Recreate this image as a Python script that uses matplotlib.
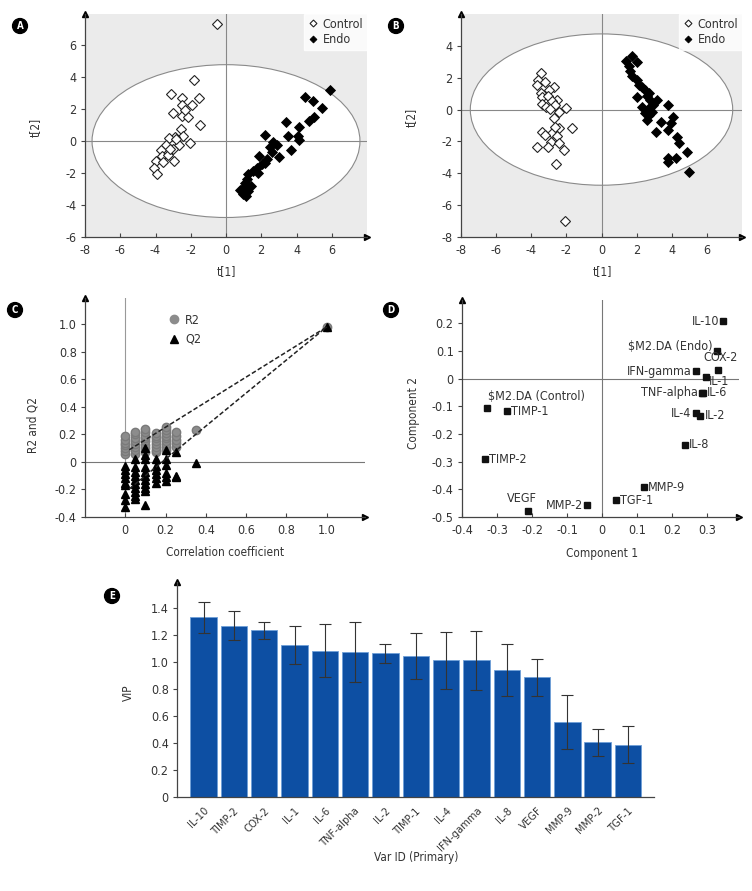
import numpy as np
import matplotlib
matplotlib.use("Agg")
import matplotlib.pyplot as plt
from matplotlib.patches import Ellipse
from matplotlib.lines import Line2D

plt.rcParams['font.family'] = ['DejaVu Sans']
plt.rcParams['font.stretch'] = 'condensed'

# ---- data -------------------------------------------------------------
# A: score plot (model 1)
a_ctrl_x = [-0.53, -1.82, -3.13, -2.52, -1.52, -1.95, -2.47, -2.99, -2.47, -2.14,
            -2.33, -1.48, -2.56, -2.43, -2.05, -2.90, -3.23, -2.66, -3.43, -3.70,
            -3.00, -3.61, -3.28, -3.98, -3.57, -2.96, -4.08, -3.91, -3.19, -2.81]
a_ctrl_y = [7.30, 3.84, 2.92, 2.71, 2.71, 2.27, 2.27, 1.74, 1.60, 1.53,
            1.95, 1.00, 0.76, 0.34, -0.15, 0.23, 0.17, -0.23, -0.25, -0.57,
            -0.50, -0.92, -0.86, -1.24, -1.30, -1.24, -1.66, -2.08, -0.50, 0.13]
a_endo_x = [5.88, 4.46, 4.91, 5.46, 4.97, 4.69, 3.42, 4.16, 3.49, 4.08, 4.17, 3.68,
            2.22, 2.69, 2.88, 2.98, 2.47, 1.90, 2.31, 2.03, 1.75, 1.56, 1.84, 1.27,
            1.18, 1.08, 1.40, 0.80, 0.99, 1.27, 2.60, 2.22, 0.99, 1.14]
a_endo_y = [3.21, 2.75, 2.48, 2.10, 1.49, 1.24, 1.18, 0.90, 0.29, 0.34, 0.06, -0.57,
            0.40, -0.08, -0.23, -0.99, -0.40, -0.92, -1.13, -1.45, -1.66, -1.87, -1.97, -2.08,
            -2.39, -2.60, -2.82, -3.07, -3.30, -3.13, -0.71, -1.34, -2.92, -3.44]

# B: score plot (model 2)
b_ctrl_x = [-3.43, -3.60, -3.23, -3.66, -2.68, -3.00, -3.47, -3.38, -3.05, -2.52, -2.81,
            -3.40, -3.17, -2.62, -2.01, -2.43, -2.94, -2.71, -1.67, -2.43, -3.38, -2.81,
            -3.23, -2.52, -2.90, -3.66, -3.04, -2.43, -2.11, -2.58, -2.09, -2.62]
b_ctrl_y = [2.29, 1.87, 1.71, 1.56, 1.41, 1.24, 1.03, 0.82, 0.86, 0.61, 0.51,
            0.36, 0.19, 0.29, 0.08, -0.13, 0.02, -0.55, -1.14, -1.18, -1.43, -1.49,
            -1.60, -1.66, -2.02, -2.34, -2.34, -2.13, -2.55, -3.39, -7.01, -1.07]
b_endo_x = [1.71, 1.40, 2.03, 1.56, 1.65, 1.75, 2.03, 2.13, 2.31, 2.50, 2.69, 2.03,
            2.60, 2.79, 3.17, 2.92, 2.73, 2.88, 2.69, 3.78, 4.08, 3.36, 2.60, 3.93,
            3.78, 3.11, 4.31, 4.44, 4.84, 3.78, 3.78, 4.25, 4.97, 2.50, 2.31]
b_endo_y = [3.39, 3.07, 2.99, 2.72, 2.40, 2.13, 1.87, 1.56, 1.41, 1.24, 1.07, 0.82,
            0.86, 0.61, 0.61, 0.29, 0.08, -0.13, -0.34, 0.29, -0.44, -0.76, -0.65, -0.86,
            -1.28, -1.43, -1.70, -2.08, -2.65, -3.07, -3.28, -3.03, -3.92, -0.23, 0.19]

# C: permutation test
r2_x = [0.0] * 7 + [0.05] * 8 + [0.1] * 8 + [0.15] * 8 + [0.2] * 9 + [0.25] * 5 + [0.35, 1.0]
r2_y = [0.06, 0.08, 0.10, 0.12, 0.14, 0.16, 0.19,
        0.06, 0.09, 0.11, 0.13, 0.15, 0.17, 0.20, 0.22,
        0.07, 0.10, 0.12, 0.15, 0.17, 0.19, 0.22, 0.24,
        0.07, 0.09, 0.11, 0.13, 0.15, 0.17, 0.19, 0.21,
        0.09, 0.11, 0.13, 0.15, 0.17, 0.19, 0.21, 0.23, 0.25,
        0.11, 0.14, 0.16, 0.19, 0.22,
        0.23, 0.98]
q2_x = [0.0] * 9 + [0.05] * 10 + [0.1] * 11 + [0.15] * 6 + [0.2] * 6 + [0.25] * 3 + [0.35, 1.0]
q2_y = [-0.03, -0.06, -0.09, -0.12, -0.15, -0.17, -0.23, -0.28, -0.33,
        0.02, -0.04, -0.07, -0.10, -0.13, -0.16, -0.19, -0.22, -0.25, -0.27,
        0.10, 0.05, 0.02, -0.04, -0.07, -0.10, -0.13, -0.16, -0.19, -0.21, -0.31,
        0.02, -0.03, -0.06, -0.09, -0.12, -0.15,
        0.09, 0.02, -0.02, -0.08, -0.11, -0.14,
        0.07, -0.10, -0.11,
        -0.01, 0.98]
r2_intercept, q2_intercept, fit_end = 0.07, -0.22, 0.98

# D: loading plot
d_names = ["IL-10", "$M2.DA (Endo)", "COX-2", "IFN-gamma", "IL-1", "TNF-alpha", "IL-6",
           "IL-4", "IL-2", "IL-8", "$M2.DA (Control)", "TIMP-1", "TIMP-2", "VEGF",
           "MMP-2", "TGF-1", "MMP-9"]
d_x = [0.345, 0.326, 0.329, 0.266, 0.297, 0.284, 0.286, 0.266, 0.278, 0.235,
       -0.329, -0.272, -0.334, -0.212, -0.043, 0.038, 0.118]
d_y = [0.209, 0.100, 0.030, 0.027, 0.006, -0.051, -0.051, -0.124, -0.133, -0.239,
       -0.105, -0.118, -0.291, -0.480, -0.458, -0.440, -0.392]

# E: VIP
vip_names = ["IL-10", "TIMP-2", "COX-2", "IL-1", "IL-6", "TNF-alpha", "IL-2", "TIMP-1",
             "IL-4", "IFN-gamma", "IL-8", "VEGF", "MMP-9", "MMP-2", "TGF-1"]
vip = [1.33, 1.267, 1.232, 1.123, 1.081, 1.072, 1.062, 1.042, 1.012, 1.010, 0.938,
       0.884, 0.553, 0.405, 0.388]
vip_err = [0.115, 0.105, 0.062, 0.14, 0.197, 0.225, 0.068, 0.173, 0.21, 0.217, 0.193,
           0.135, 0.199, 0.10, 0.14]

# ---- layout helpers ---------------------------------------------------
W, H = 752, 891
fig = plt.figure(figsize=(W / 100, H / 100), dpi=100)
TXT = "#333333"
SP = "#444444"


def ax_px(l, t, r, b):
    return fig.add_axes([l / W, 1 - b / H, (r - l) / W, (b - t) / H])


def ftext(x, y, s, **kw):
    kw.setdefault("color", TXT)
    kw.setdefault("fontsize", 8.5)
    fig.text(x / W, 1 - y / H, s, ha="center", va="center", **kw)


def badge(x, y, s):
    fig.text(x / W, 1 - y / H, s, ha="center", va="center", color="white",
             fontsize=7, fontweight="bold",
             bbox=dict(boxstyle="circle,pad=0.25", fc="black", ec="black"))


def fmt_int(v):
    return f"{v:d}"


def fmt_dec(v):
    return "0" if abs(v) < 1e-9 else f"{v:.1f}"


def style(ax, xticks, yticks, xfmt=fmt_dec, yfmt=fmt_dec, arrow_x=True):
    for s in ["top", "right"]:
        ax.spines[s].set_visible(False)
    for s in ["left", "bottom"]:
        ax.spines[s].set_color(SP)
        ax.spines[s].set_linewidth(0.9)
    ax.set_xticks(xticks)
    ax.set_yticks(yticks)
    ax.set_xticklabels([xfmt(v) for v in xticks])
    ax.set_yticklabels([yfmt(v) for v in yticks])
    ax.tick_params(axis="x", direction="in", length=3, colors=SP, labelcolor=TXT,
                   labelsize=9, pad=5)
    ax.tick_params(axis="y", direction="out", length=3, colors=SP, labelcolor=TXT,
                   labelsize=9, pad=3)
    ax.plot(0, 1, "^", color="black", ms=5, transform=ax.transAxes, clip_on=False)
    if arrow_x:
        ax.plot(1, 0, ">", color="black", ms=5, transform=ax.transAxes, clip_on=False)


def score_panel(ax, cx, cy, ex, ey, ylim, ell):
    ax.set_facecolor("#ebebeb")
    ax.add_patch(Ellipse((0, 0), 2 * ell[0], 2 * ell[1], fc="white", ec="#8a8a8a",
                         lw=0.8, zorder=0.5))
    ax.axhline(0, color="#888888", lw=0.8, zorder=1)
    ax.axvline(0, color="#888888", lw=0.8, zorder=1)
    ax.plot(cx, cy, "D", ms=5, mfc="white", mec="#222222", mew=0.8, ls="none",
            zorder=3, label="Control")
    ax.plot(ex, ey, "D", ms=5, mfc="black", mec="black", mew=0.6, ls="none",
            zorder=3, label="Endo")
    ax.set_xlim(-8, 8.0)
    ax.set_ylim(*ylim)
    leg = ax.legend(loc="upper right", borderaxespad=0, frameon=True, fancybox=False,
                    fontsize=9, handlelength=0.8, handletextpad=0.4, borderpad=0.3,
                    labelspacing=0.2, markerscale=0.7)
    leg.get_frame().set_facecolor("white")
    leg.get_frame().set_edgecolor("white")
    for t in leg.get_texts():
        t.set_color(TXT)


# ---- A ----
axA = ax_px(85, 14, 367, 237)
score_panel(axA, a_ctrl_x, a_ctrl_y, a_endo_x, a_endo_y, (-6, 7.95), (7.6, 4.78))
style(axA, list(range(-8, 7, 2)), list(range(-6, 7, 2)), fmt_int, fmt_int)
ftext(226, 272, "t[1]")
ftext(35, 127, "t[2]", rotation=90)
badge(20, 26, "A")

# ---- B ----
axB = ax_px(461, 14, 742, 237)
score_panel(axB, b_ctrl_x, b_ctrl_y, b_endo_x, b_endo_y, (-8, 6.0), (7.47, 4.75))
style(axB, list(range(-8, 7, 2)), list(range(-8, 5, 2)), fmt_int, fmt_int)
ftext(602, 272, "t[1]")
ftext(411, 117, "t[2]", rotation=90)
badge(396, 26, "B")

# ---- C ----
axC = ax_px(85, 298, 365, 517)
axC.axhline(0, color="#777777", lw=0.8, zorder=1)
axC.axvline(0, color="#999999", lw=0.8, zorder=1)
axC.plot(r2_x, r2_y, "o", ms=6, color="#8c8c8c", mec="#7a7a7a", ls="none", zorder=3)
axC.plot(q2_x, q2_y, "^", ms=6, color="black", ls="none", zorder=4)
xs = np.array([0.02, 1.0])
axC.plot(xs, r2_intercept + (fit_end - r2_intercept) * xs, ls=(0, (3, 1.5)),
         color="#222222", lw=1.1, zorder=5)
axC.plot(xs, q2_intercept + (fit_end - q2_intercept) * xs, ls=(0, (3, 1.5)),
         color="#222222", lw=1.1, zorder=5)
axC.set_xlim(-0.2, 1.19)
axC.set_ylim(-0.4, 1.19)
style(axC, [0, 0.2, 0.4, 0.6, 0.8, 1.0], [-0.4, -0.2, 0, 0.2, 0.4, 0.6, 0.8, 1.0])
handles = [Line2D([], [], marker="o", color="#8c8c8c", ls="none", ms=6),
           Line2D([], [], marker="^", color="black", ls="none", ms=6)]
legC = axC.legend(handles, ["R2", "Q2"], loc="upper left", bbox_to_anchor=(0.26, 0.98),
                  frameon=False, fontsize=9, handlelength=0.8, handletextpad=0.5,
                  labelspacing=0.5)
for t in legC.get_texts():
    t.set_color(TXT)
ftext(33, 425, "R2 and Q2", rotation=90)
ftext(225, 553, "Correlation coefficient")
badge(15, 310, "C")

# ---- D ----
axD = ax_px(462, 300, 739, 517)
axD.axhline(0, color="#777777", lw=0.8, zorder=1)
axD.axvline(0, color="#777777", lw=0.8, zorder=1)
axD.plot(d_x, d_y, "s", ms=5, color="#111111", ls="none", zorder=3)
# label placement (offset in points, horizontal alignment)
d_off = [(-3, 0, "right"), (-3, 3, "right"), (2, 9, "center"), (-3, 0, "right"),
         (2, -3, "left"), (-3, 0, "right"), (3, 0, "left"), (-3, 0, "right"),
         (4, 0, "left"), (3, 0, "left"), (1, 8, "left"), (3, 0, "left"),
         (3, 0, "left"), (-4, 9, "center"), (-3, 0, "right"), (3, 0, "left"),
         (3, 0, "left")]
for name, x, y, (ox, oy, ha) in zip(d_names, d_x, d_y, d_off):
    axD.annotate(name, (x, y), xytext=(ox, oy), textcoords="offset points",
                 ha=ha, va="center", fontsize=9, color=TXT, zorder=4)
axD.set_xlim(-0.4, 0.39)
axD.set_ylim(-0.5, 0.285)
style(axD, [-0.4, -0.3, -0.2, -0.1, 0, 0.1, 0.2, 0.3], [-0.5, -0.4, -0.3, -0.2, -0.1, 0, 0.1, 0.2])
ftext(414, 413, "Component 2", rotation=90)
ftext(602, 553, "Component 1")
badge(391, 310, "D")

# ---- E ----
axE = ax_px(177, 582, 654, 797)
pos = np.arange(len(vip_names))
axE.bar(pos, vip, width=0.87, color="#0d4fa3", edgecolor="#6f9fd8", linewidth=0.6,
        zorder=2)
axE.errorbar(pos, vip, yerr=vip_err, fmt="none", ecolor="#333333", elinewidth=0.8,
             capsize=4, capthick=0.8, zorder=3)
axE.set_xlim(-0.88, 14.86)
axE.set_ylim(0, 1.59)
style(axE, list(pos), [0, 0.2, 0.4, 0.6, 0.8, 1.0, 1.2, 1.4], arrow_x=False)
axE.set_xticklabels(vip_names, rotation=45, ha="right", rotation_mode="anchor",
                    fontsize=8)
axE.tick_params(axis="x", length=0, pad=6)
ftext(128, 693, "VIP", rotation=90)
ftext(416, 857, "Var ID (Primary)")
badge(112, 596, "E")

fig.savefig("out.png", dpi=100)
